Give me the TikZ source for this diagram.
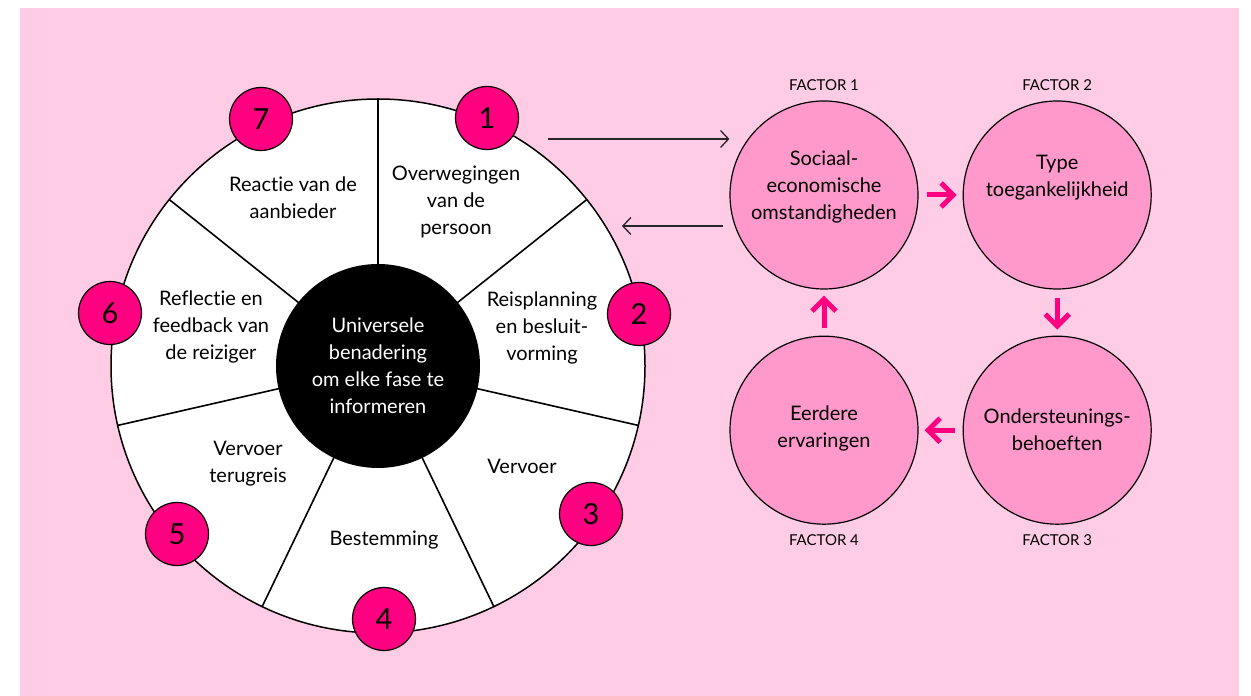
\documentclass[tikz,border=0pt]{standalone}
\usepackage{fontspec}
\setmainfont{Lato}[Ligatures=NoCommon]
\usetikzlibrary{positioning}
\usetikzlibrary{arrows.meta}
\definecolor{bgC}{HTML}{FFCCE6}
\definecolor{factorC}{HTML}{FF99CC}
\definecolor{numC}{HTML}{FF0080}
\colorlet{lineC}{black!85}

\begin{document}
\begin{tikzpicture}[x=1pt,y=1pt,
  phase/.style={align=center, text=black, font=\fontsize{20}{27}\selectfont},
  num/.style={draw, fill=numC, shape=circle, line width=1.2pt, minimum size=63pt, inner sep=0pt, font=\fontsize{29}{29}\selectfont},
  factor/.style={draw, fill=factorC, shape=circle, line width=1.2pt, minimum size=188pt, inner sep=0pt},
  ftext/.style={align=center, font=\fontsize{20}{27}\selectfont},
  flabel/.style={inner sep=0pt, font=\fontsize{15}{15}\selectfont},
  cyc/.style={numC, line width=5pt, -{Straight Barb[length=12pt,width=24pt,sharp]}, shorten <=8pt, shorten >=6pt},
  link/.style={lineC, line width=1.3pt, -{Straight Barb[length=8pt,width=17pt]}}]
\useasboundingbox (0,0) rectangle (1251,696);
\fill[bgC] (20,0) rectangle (1239,688);

\node[draw, fill=white, shape=circle, line width=1.5pt, minimum size=534pt, inner sep=0pt]
(wheel) at (378,330) {};
\draw[line width=1.6pt] (wheel.center) -- +(90:267) (wheel.center) -- +(38.57:267)
 (wheel.center) -- +(-12.86:267) (wheel.center) -- +(-64.29:267) (wheel.center) -- +(-115.71:267)
 (wheel.center) -- +(-167.14:267) (wheel.center) -- +(141.43:267);
\node[fill=black, shape=circle, minimum size=204pt, inner sep=0pt, align=center, text=white, font=\fontsize{20}{27}\selectfont]
(hub) at (wheel.center) {Universele\\benadering\\om elke fase te\\informeren};

\node[phase] (p1) at (456,494) {Overwegingen\\van de\\persoon};
\node[phase] (p2) at (542,368) {Reisplanning\\en besluit-\\vorming};
\node[phase] (p3) at (522,230) {Vervoer};
\node[phase] (p4) at (384,156) {Bestemming};
\node[phase] (p5) at (248,232) {Vervoer\\terugreis};
\node[phase] (p6) at (211,369) {Reflectie en\\feedback van\\de reiziger};
\node[phase] (p7) at (293,498) {Reactie van de\\aanbieder};

\node[num] (n1) at (487,578) {1};
\node[num] (n2) at (639,382) {2};
\node[num] (n3) at (591,182) {3};
\node[num] (n4) at (384,77) {4};
\node[num] (n5) at (177,162) {5};
\node[num] (n6) at (110,383) {6};
\node[num] (n7) at (261,577) {7};

\node[factor] (f1) at (824,501) {};
\node[factor, right=44pt of f1] (f2) {};
\node[factor, below=46pt of f2] (f3) {};
\node[factor, left=44pt of f3] (f4) {};

\node[ftext, yshift=8pt] (t1) at (f1) {Sociaal-\\economische\\omstandigheden};
\node[ftext, yshift=17pt] (t2) at (f2) {Type\\toegankelijkheid};
\node[ftext] (t3) at (f3) {Ondersteunings-\\behoeften};
\node[ftext, yshift=2pt] (t4) at (f4) {Eerdere\\ervaringen};

\node[flabel, above=9.5pt of f1] (l1) {FACTOR 1};
\node[flabel, above=9.5pt of f2] (l2) {FACTOR 2};
\node[flabel, below=10pt of f3] (l3) {FACTOR 3};
\node[flabel, below=10pt of f4] (l4) {FACTOR 4};

\draw[cyc] (f1) -- (f2);
\draw[cyc] (f2) -- (f3);
\draw[cyc] (f3) -- (f4);
\draw[cyc] (f4) -- (f1);

\coordinate (a1) at (548,557);
\coordinate (b1) at (622,470);
\draw[link] (a1) -- (a1 -| f1.west);
\draw[link, shorten <=6pt] (b1 -| f1.west) -- (b1);

\end{tikzpicture}
\end{document}
